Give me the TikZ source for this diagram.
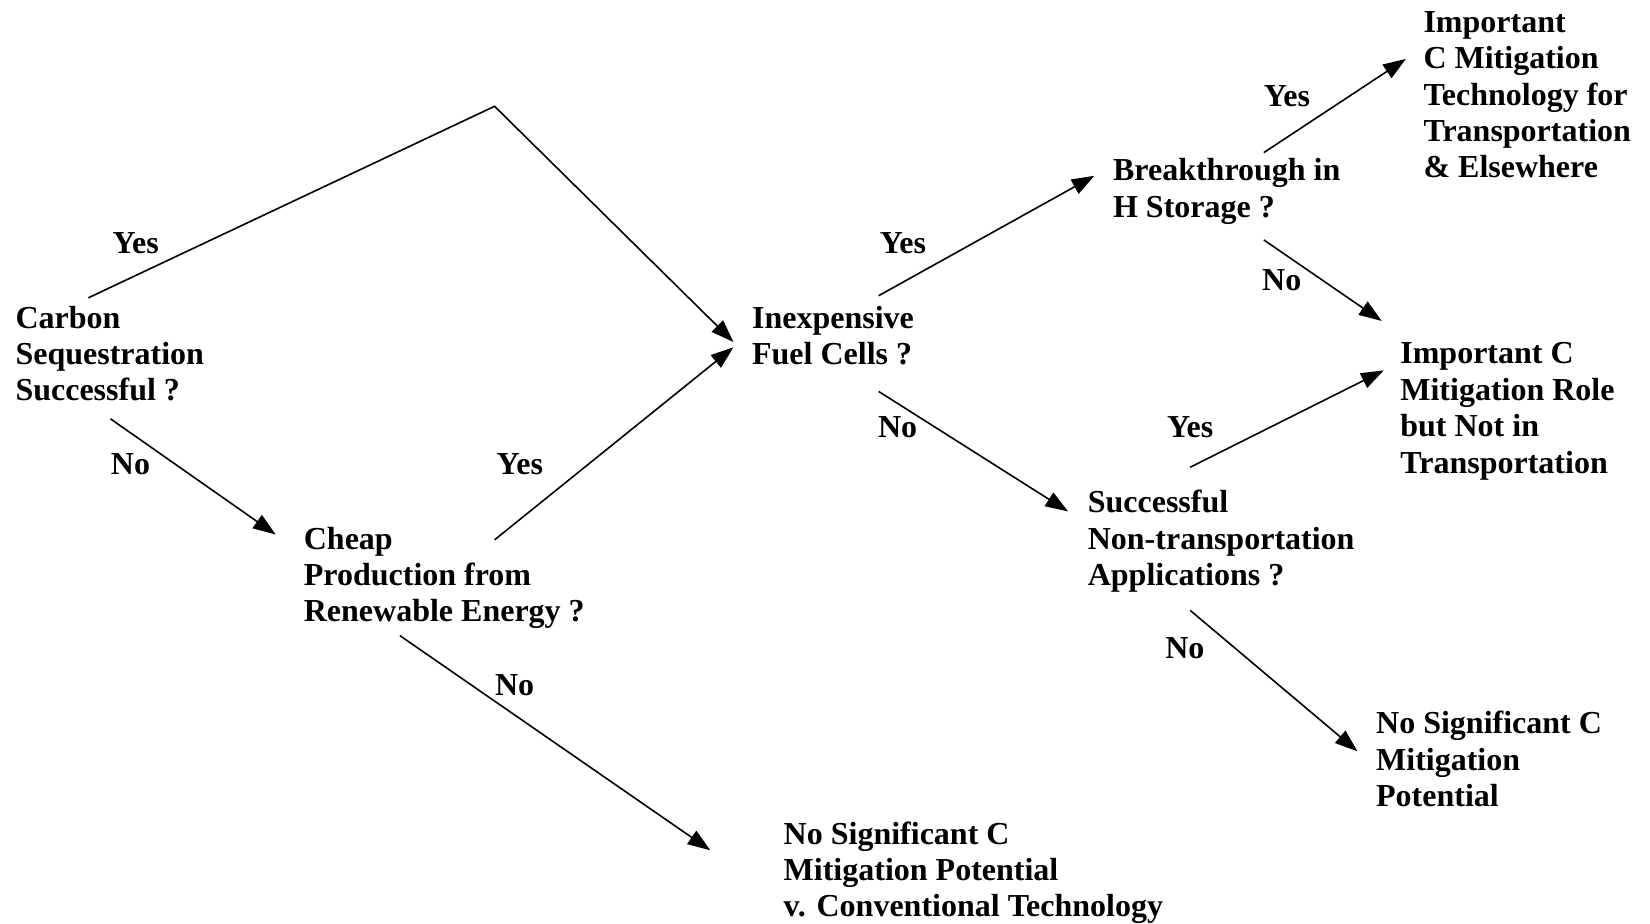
\documentclass[tikz,border=0pt]{standalone}
\usepackage{fontspec}
\setmainfont{Liberation Serif}
\usetikzlibrary{arrows.meta}
\usetikzlibrary{calc}
\tikzset{
    tnode/.style = {align=left, inner sep=0pt, font=\bfseries\fontsize{12}{13.65}\selectfont},
    qnode/.style = {tnode, anchor=north west},
    leaf/.style = {tnode, anchor=north west},
    answer/.style = {tnode, anchor=center}
}

\begin{document}
\begin{tikzpicture}
            [x=0.3946pt, y=-0.3946pt, line width=0.6pt,
            >={Triangle[length=8.5pt,width=6pt]}]

            \useasboundingbox (0,0) rectangle (1568,878);

            % questions
            \node [qnode] (carbon) at (14,290) {Carbon\\Sequestration\\Successful ?};
            \node [qnode] (cheap) at (288,500) {Cheap\\Production from\\Renewable Energy ?};
            \node [qnode] (fuel) at (714,290) {Inexpensive\\Fuel Cells ?};
            \node [qnode] (storage) at (1057,150) {Breakthrough in\\H Storage ?};
            \node [qnode] (nontrans) at (1033,465) {Successful\\Non-transportation\\Applications ?};

            % outcomes
            \node [leaf] (imptrans) at (1352,10) {Important\\C Mitigation\\Technology for\\Transportation\\\& Elsewhere};
            \node [leaf] (improle) at (1330,325) {Important C\\Mitigation Role\\but Not in\\Transportation};
            \node [leaf] (nosigconv) at (744,780) {No Significant C\\Mitigation Potential\\v. Conventional Technology};
            \node [leaf] (nosig) at (1307,675) {No Significant C\\Mitigation\\Potential};

            \coordinate (peak) at (470,101);

            \draw [->] ($(carbon.north west)+(70,-7)$) -- (peak) -- ($(fuel.north west)+(-17,35)$);
            \draw [->] ($(carbon.north west)+(91,108)$) -- ($(cheap.north west)+(-26,8)$);
            \draw [->] ($(cheap.north west)+(182,13)$) -- ($(fuel.north west)+(-17,40)$);
            \draw [->] ($(cheap.north west)+(92,104)$) -- ($(nosigconv.north west)+(-69,28)$);
            \draw [->] ($(fuel.north west)+(121,-9)$) -- ($(storage.north west)+(-17,17)$);
            \draw [->] ($(fuel.north west)+(121,82)$) -- ($(nontrans.north west)+(-18,21)$);
            \draw [->] ($(storage.north west)+(144,-5)$) -- ($(imptrans.north west)+(-16,46)$);
            \draw [->] ($(storage.north west)+(144,78)$) -- ($(improle.north west)+(-17,-20)$);
            \draw [->] ($(nontrans.north west)+(98,-21)$) -- ($(improle.north west)+(-15,27)$);
            \draw [->] ($(nontrans.north west)+(98,115)$) -- ($(nosig.north west)+(-17,39)$);

            % answers
            \node [answer] (yes1) at (129,231) {Yes};
            \node [answer] (no1) at (124,441) {No};
            \node [answer] (yes2) at (494,441) {Yes};
            \node [answer] (no2) at (489,651) {No};
            \node [answer] (yes3) at (858,231) {Yes};
            \node [answer] (no3) at (853,406) {No};
            \node [answer] (yes4) at (1223,91) {Yes};
            \node [answer] (no4) at (1218,266) {No};
            \node [answer] (yes5) at (1131,406) {Yes};
            \node [answer] (no5) at (1126,616) {No};
        \end{tikzpicture}
\end{document}
